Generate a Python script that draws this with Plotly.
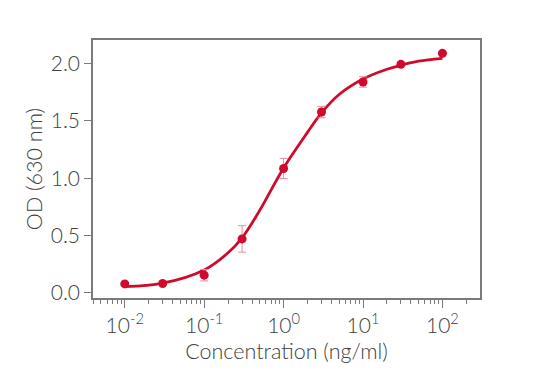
import plotly.graph_objects as go

# measured points
conc = [0.01, 0.03, 0.1, 0.3, 1, 3, 10, 30, 100]
od = [0.079, 0.082, 0.155, 0.471, 1.085, 1.577, 1.839, 1.993, 2.089]
od_err = [0.01, 0.01, 0.05, 0.115, 0.088, 0.05, 0.045, 0.01, 0.01]

# fitted curve
curve_x = [0.01, 0.03, 0.1, 0.2, 0.3, 0.5, 1, 2, 3, 5, 10, 20, 30, 50, 100]
curve_y = [0.055, 0.085, 0.20, 0.35, 0.48, 0.72, 1.09, 1.40, 1.57, 1.73,
           1.865, 1.95, 1.985, 2.02, 2.045]

tick_vals = [0.01, 0.1, 1, 10, 100]
tick_text = ["10<sup>-2</sup>", "10<sup>-1</sup>", "10<sup>0</sup>",
             "10<sup>1</sup>", "10<sup>2</sup>"]
y_ticks = [0.0, 0.5, 1.0, 1.5, 2.0]

red = "#CF0A2C"
pink = "#E58A9C"
grey = "#7a7a7a"
text_col = "#404040"

fig = go.Figure()
fig.add_trace(go.Scatter(
    x=curve_x, y=curve_y, mode="lines",
    line=dict(color=red, width=2.8, shape="spline", smoothing=1.0),
    hoverinfo="skip", showlegend=False))
fig.add_trace(go.Scatter(
    x=conc, y=od, mode="markers",
    marker=dict(color=red, size=9),
    error_y=dict(type="data", array=od_err, color=pink, thickness=1, width=4),
    showlegend=False))

fig.update_layout(
    width=550, height=384,
    margin=dict(l=85, r=78, t=32, b=94),
    paper_bgcolor="white", plot_bgcolor="white",
    font=dict(family="Lato", color=text_col, size=21, weight=300),
)
fig.update_xaxes(
    type="log", range=[-2.4, 2.473], automargin=False,
    tickvals=tick_vals, ticktext=tick_text,
    ticks="outside", ticklen=8, tickwidth=1.2, tickcolor=grey,
    minor=dict(ticks="outside", ticklen=4, tickwidth=1, tickcolor=grey, dtick="D1"),
    showline=True, linecolor=grey, linewidth=1.5, mirror=True,
    showgrid=False, zeroline=False,
    title=dict(text="Concentration (ng/ml)", font=dict(size=21.5, weight=300), standoff=8),
    tickfont=dict(size=21, weight=300),
)
fig.update_yaxes(
    range=[-0.044, 2.205], automargin=False,
    tickvals=y_ticks, ticktext=["0.0", "0.5", "1.0", "1.5", "2.0"],
    ticks="outside", ticklen=7, tickwidth=1.2, tickcolor=grey,
    showline=True, linecolor=grey, linewidth=1.5, mirror=True,
    showgrid=False, zeroline=False,
    title=dict(text="OD (630 nm)", font=dict(size=21.5, weight=300), standoff=2),
    tickfont=dict(size=21, weight=300),
)

fig.write_html("out.html")
